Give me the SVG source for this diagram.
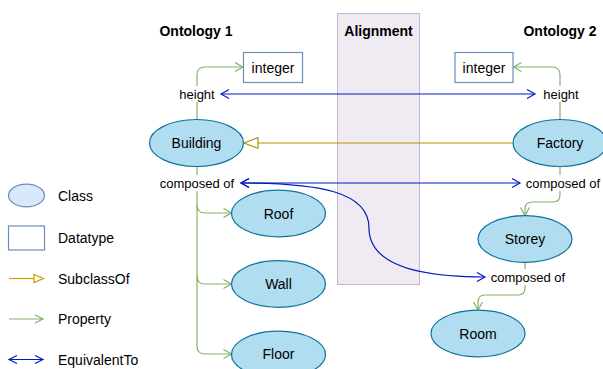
<svg xmlns="http://www.w3.org/2000/svg" width="603" height="369" viewBox="0 0 603 369">
  <style>
    text { font-family: "Liberation Sans", Arial, sans-serif; fill: #000; text-anchor: middle; dominant-baseline: central; }
    .title { font-size: 14px; font-weight: bold; }
    .node { font-size: 14px; }
    .lbl { font-size: 13px; }
    .leg { font-size: 14px; text-anchor: start; }
    .cls { fill: #b1ddf0; stroke: #10739e; stroke-width: 1.2; }
    .dt { fill: #ffffff; stroke: #6c8ebf; stroke-width: 1.2; }
    .prop { fill: none; stroke: #82b366; stroke-width: 1.2; marker-end: url(#openGreen); }
    .equiv { fill: none; stroke: #001dbc; stroke-width: 1.2; marker-start: url(#openBlue); marker-end: url(#openBlue); }
    .sub { fill: none; stroke: #b09500; stroke-width: 1.2; marker-end: url(#triOlive); }
    .lblbg { fill: #ffffff; }
  </style>
  <defs>
    <marker id="openGreen" markerUnits="userSpaceOnUse" markerWidth="12" markerHeight="12" refX="9" refY="5" orient="auto-start-reverse" viewBox="0 0 12 10">
      <path d="M1,0.5 L9,5 L1,9.5" fill="none" stroke="#82b366" stroke-width="1.2"/>
    </marker>
    <marker id="openBlue" markerUnits="userSpaceOnUse" markerWidth="12" markerHeight="12" refX="9" refY="5" orient="auto-start-reverse" viewBox="0 0 12 10">
      <path d="M1,0.5 L9,5 L1,9.5" fill="none" stroke="#001dbc" stroke-width="1.2"/>
    </marker>
    <marker id="triOlive" markerUnits="userSpaceOnUse" markerWidth="18" markerHeight="14" refX="15" refY="6" orient="auto" viewBox="0 0 18 12">
      <path d="M1,0.7 L15,6 L1,11.3 Z" fill="#ffffff" stroke="#b09500" stroke-width="1.2"/>
    </marker>
  </defs>

  <!-- alignment band -->
  <g id="alignment">
    <rect x="337.5" y="13.5" width="82" height="271" fill="#e1d5e7" fill-opacity="0.5" stroke="#9673a6" stroke-opacity="0.5"/>
    <text class="title" x="378.5" y="31">Alignment</text>
  </g>
  <g id="titles">
    <text class="title" x="196" y="31">Ontology 1</text>
    <text class="title" x="560" y="31">Ontology 2</text>
  </g>

  <!-- connectors -->
  <g id="connectors">
    <!-- properties, ontology 1 -->
    <path class="prop" d="M197 119.5 L197 75 Q197 67 205 67 L243 67"/>
    <path d="M197 166.5 L197 346 Q197 354 205 354 L231.5 354" fill="none" stroke="#82b366" stroke-width="1.2" marker-end="url(#openGreen)"/>
    <path class="prop" d="M197 205 Q197 213 205 213 L231.5 213"/>
    <path class="prop" d="M197 276 Q197 284 205 284 L231.5 284"/>
    <!-- properties, ontology 2 -->
    <path class="prop" d="M560 120 L560 75 Q560 67 552 67 L513.5 67"/>
    <path class="prop" d="M560 166.5 L560 195 Q560 202 553 202 L532 202 Q525 202 525 209 L525 215.5"/>
    <path class="prop" d="M525 262.5 L525 288 Q525 295 518 295 L485 295 Q478 295 478 302 L478 310"/>
    <!-- subclass -->
    <path class="sub" d="M512.5 143 L244 143"/>
    <!-- equivalences -->
    <path class="equiv" d="M221 94 L535 94"/>
    <path class="equiv" d="M241 183 L520 183"/>
    <path class="equiv" d="M241 183 C320 183 369 192 369 228 C369 262 412 277 485 277"/>
  </g>

  <!-- edge labels -->
  <g id="labels">
    <rect class="lblbg" x="178" y="86" width="38" height="16"/>
    <text class="lbl" x="197" y="94">height</text>
    <rect class="lblbg" x="542" y="86" width="39" height="16"/>
    <text class="lbl" x="561" y="94">height</text>
    <rect class="lblbg" x="159" y="175" width="76" height="16"/>
    <text class="lbl" x="197" y="183">composed of</text>
    <rect class="lblbg" x="525" y="175" width="77" height="16"/>
    <text class="lbl" x="563" y="183">composed of</text>
    <rect class="lblbg" x="490" y="269" width="77" height="16"/>
    <text class="lbl" x="528" y="277">composed of</text>
  </g>

  <!-- ontology 1 nodes -->
  <g id="building"><ellipse class="cls" cx="196.5" cy="143" rx="47" ry="23.5"/><text class="node" x="196.5" y="143">Building</text></g>
  <g id="integer1"><rect class="dt" x="243.5" y="52.5" width="59" height="30"/><text class="node" x="273" y="67.5">integer</text></g>
  <g id="roof"><ellipse class="cls" cx="278.5" cy="213.5" rx="47" ry="23.3"/><text class="node" x="278.5" y="213.5">Roof</text></g>
  <g id="wall"><ellipse class="cls" cx="278.5" cy="284" rx="47" ry="23.3"/><text class="node" x="278.5" y="284">Wall</text></g>
  <g id="floor"><ellipse class="cls" cx="278.5" cy="354.5" rx="47" ry="23.3"/><text class="node" x="278.5" y="354">Floor</text></g>

  <!-- ontology 2 nodes -->
  <g id="factory"><ellipse class="cls" cx="560" cy="143" rx="47" ry="23.5"/><text class="node" x="560" y="143">Factory</text></g>
  <g id="integer2"><rect class="dt" x="455" y="52.5" width="58" height="30"/><text class="node" x="484" y="67.5">integer</text></g>
  <g id="storey"><ellipse class="cls" cx="525" cy="239" rx="47" ry="23.3"/><text class="node" x="525" y="239">Storey</text></g>
  <g id="room"><ellipse class="cls" cx="478" cy="333.5" rx="47" ry="23.3"/><text class="node" x="478" y="333.5">Room</text></g>

  <!-- legend -->
  <g id="legend">
    <ellipse cx="26.5" cy="195.5" rx="18" ry="11.3" fill="#dae8fc" stroke="#6c8ebf" stroke-width="1.2"/>
    <text class="leg" x="58" y="196">Class</text>
    <rect x="8.5" y="226" width="36" height="24" fill="#ffffff" stroke="#6c8ebf" stroke-width="1.2"/>
    <text class="leg" x="58" y="238">Datatype</text>
    <path d="M9 278.5 L34 278.5" stroke="#d79b00" stroke-width="1.2"/>
    <path d="M34 274.5 L43.5 278.5 L34 282.5 Z" fill="#ffffff" stroke="#d79b00" stroke-width="1.2"/>
    <text class="leg" x="58" y="278.5">SubclassOf</text>
    <path d="M9 319 L43 319 M35 315 L43 319 L35 323" fill="none" stroke="#82b366" stroke-width="1.2"/>
    <text class="leg" x="58" y="319">Property</text>
    <path d="M9 359.5 L43 359.5 M17 355.5 L9 359.5 L17 363.5 M35 355.5 L43 359.5 L35 363.5" fill="none" stroke="#001dbc" stroke-width="1.2"/>
    <text class="leg" x="58" y="359.5">EquivalentTo</text>
  </g>
</svg>
